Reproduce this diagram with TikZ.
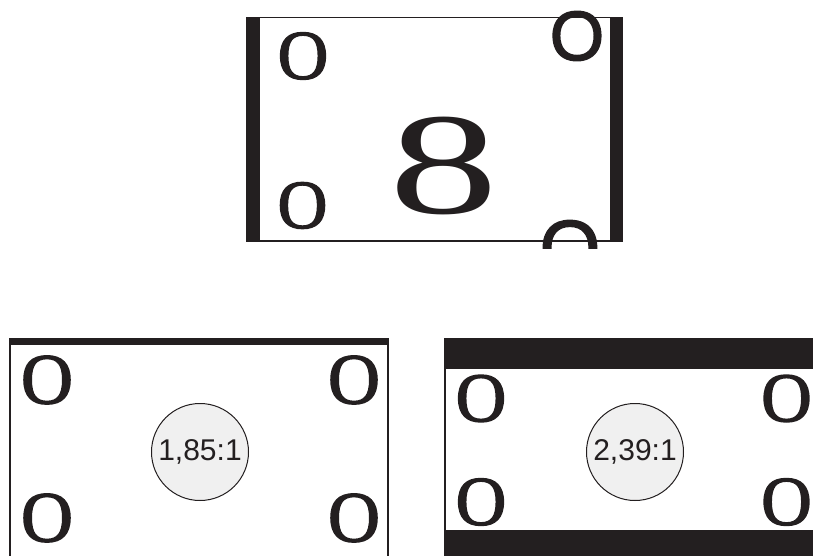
\documentclass[tikz,border=0pt]{standalone}
\usepackage{fontspec}
\setmainfont{Liberation Serif}
\newfontfamily\sansf{Liberation Sans}
\newfontfamily\heavyserif[FakeBold=2]{Liberation Serif}
\newfontfamily\heavysans[FakeBold=2]{Liberation Sans}
\definecolor{ink}{HTML}{231F20}
\begin{document}
\begin{tikzpicture}[x=1pt,y=-1pt,
  thinline/.style={draw=ink,line width=1.3pt},
  band/.style={fill=ink},
  letter/.style={inner sep=0pt,text=ink},
  ratio/.style={circle,draw=ink,line width=1pt,fill=black!6,minimum size=97pt,inner sep=0pt,text=ink,font=\sansf\fontsize{30}{30}\selectfont}]
\useasboundingbox (0,0) rectangle (813,556);
% ---- top frame ----
\draw[thinline] (247,17.5) -- (622,17.5);
\draw[thinline] (247,241) -- (622,241);
\fill[band] (246,17) rectangle (260,242);
\fill[band] (610,17) rectangle (623,242);
\node[letter,font=\heavyserif\fontsize{70}{70}\selectfont] (tl) at (303,56) {O};
\node[letter,font=\heavyserif\fontsize{69}{69}\selectfont] (bl) at (302.5,205.5) {O};
\node[letter,font=\heavysans\fontsize{70}{70}\selectfont] (tr) at (577,36) {O};
\begin{scope}
\clip (0,0) rectangle (813,248);
\node[letter,font=\heavysans\fontsize{78}{78}\selectfont] (br) at (570,248) {O};
\end{scope}
\node[letter,font=\fontsize{145}{145}\selectfont] (eight) at (444,166) {\scalebox{1.5}[1]{8}};
% ---- bottom left frame ----
\fill[band] (9,338) rectangle (389,345);
\draw[thinline] (10,338) -- (10,556);
\draw[thinline] (388,338) -- (388,556);
\node[letter,font=\heavyserif\fontsize{72}{72}\selectfont] (a1) at (47,380) {O};
\node[letter,font=\heavyserif\fontsize{72}{72}\selectfont] (a2) at (354,380) {O};
\node[letter,font=\heavyserif\fontsize{72}{72}\selectfont] (a3) at (47,518) {O};
\node[letter,font=\heavyserif\fontsize{72}{72}\selectfont] (a4) at (354,518) {O};
\node[ratio] (r1) at (200,452) {1,85:1};
% ---- bottom right frame ----
\fill[band] (444,338) rectangle (813,369);
\fill[band] (444,530) rectangle (813,556);
\draw[thinline] (445,338) -- (445,556);
\node[letter,font=\heavyserif\fontsize{70}{70}\selectfont] (b1) at (481,398.5) {O};
\node[letter,font=\heavyserif\fontsize{70}{70}\selectfont] (b2) at (786.5,398.5) {O};
\node[letter,font=\heavyserif\fontsize{70}{70}\selectfont] (b3) at (481,502) {O};
\node[letter,font=\heavyserif\fontsize{70}{70}\selectfont] (b4) at (786.5,502) {O};
\node[ratio] (r2) at (635,452) {2,39:1};
\end{tikzpicture}
\end{document}
